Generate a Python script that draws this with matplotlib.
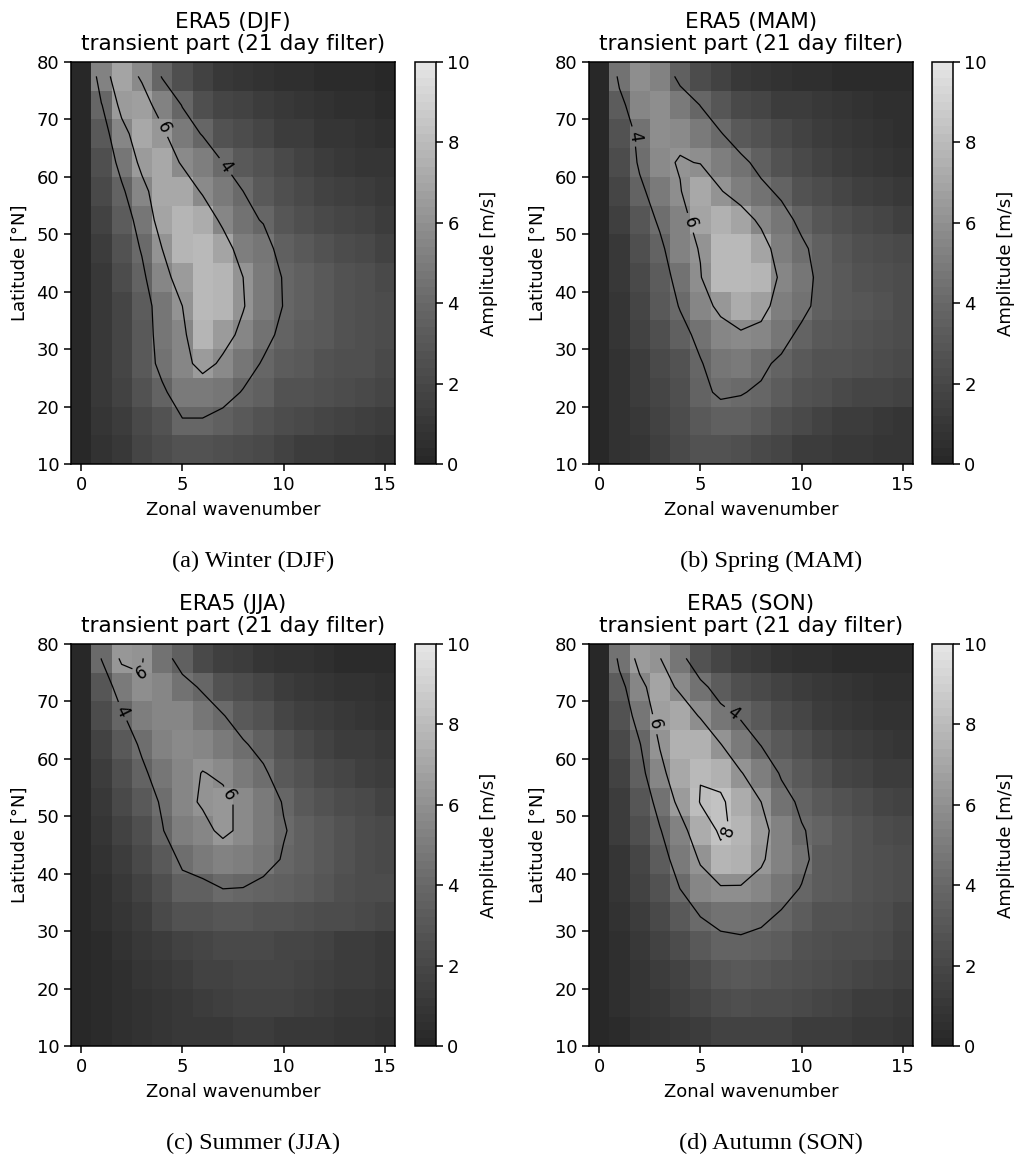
import numpy as np
import matplotlib.pyplot as plt
from matplotlib.colors import LinearSegmentedColormap

# latitude rows run from north to south, columns are wavenumber 0-15
latitudes = [77.5, 72.5, 67.5, 62.5, 57.5, 52.5, 47.5, 42.5, 37.5, 32.5, 27.5, 22.5, 17.5, 12.5]
wavenumbers = list(range(16))

djf = [
    [0.1, 5.3, 6.9, 5.8, 3.9, 2.5, 1.7, 1.0, 0.9, 0.7, 0.5, 0.4, 0.3, 0.2, 0.2, 0.1],
    [0.1, 3.9, 6.5, 6.7, 5.3, 3.93, 2.5, 1.9, 1.7, 1.4, 1.1, 0.9, 0.7, 0.5, 0.4, 0.3],
    [0.1, 3.1, 5.4, 7.0, 6.3, 4.8, 3.9, 2.6, 2.3, 1.9, 1.4, 1.2, 0.9, 0.8, 0.6, 0.5],
    [0.1, 2.5, 4.6, 6.4, 7.1, 5.8, 5.1, 4.0, 3.0, 2.6, 2.0, 1.6, 1.3, 1.1, 0.9, 0.8],
    [0.1, 2.0, 3.7, 5.5, 7.0, 7.1, 5.8, 4.8, 4.0, 3.1, 2.5, 2.1, 1.7, 1.5, 1.3, 1.1],
    [0.1, 1.6, 3.2, 4.6, 6.9, 7.6, 7.2, 5.6, 4.4, 3.9, 2.9, 2.5, 2.1, 1.8, 1.6, 1.4],
    [0.1, 1.3, 2.7, 4.15, 6.0, 7.7, 7.9, 6.9, 5.1, 4.6, 3.4, 3.1, 2.7, 2.3, 2.0, 1.7],
    [0.1, 1.1, 2.3, 3.6, 5.6, 6.5, 7.95, 7.7, 6.0, 4.9, 3.9, 3.4, 3.0, 2.7, 2.4, 2.0],
    [0.1, 1.0, 1.9, 3.3, 4.7, 6.0, 7.95, 7.6, 6.1, 4.9, 3.95, 3.4, 3.1, 2.8, 2.5, 2.2],
    [0.1, 1.0, 1.9, 3.1, 4.7, 5.6, 7.6, 6.6, 5.6, 4.5, 3.6, 3.2, 3.0, 2.8, 2.5, 2.2],
    [0.1, 1.0, 1.9, 3.0, 4.5, 5.4, 6.6, 5.7, 4.7, 3.85, 3.3, 3.0, 2.8, 2.5, 2.4, 2.1],
    [0.1, 1.0, 1.7, 2.7, 3.7, 4.9, 4.9, 4.6, 3.9, 3.4, 2.8, 2.6, 2.4, 2.2, 2.0, 1.8],
    [0.1, 0.9, 1.4, 2.1, 2.7, 3.9, 3.9, 3.5, 3.1, 2.7, 2.3, 2.0, 1.8, 1.6, 1.5, 1.3],
    [0.1, 0.7, 1.0, 1.8, 2.3, 2.6, 2.7, 2.5, 2.3, 2.0, 1.6, 1.4, 1.2, 1.1, 1.0, 0.9],
]

mam = [
    [0.1, 4.5, 5.9, 5.2, 3.55, 2.3, 1.6, 1.1, 0.9, 0.7, 0.5, 0.4, 0.3, 0.2, 0.2, 0.2],
    [0.1, 3.3, 5.6, 5.9, 4.9, 3.97, 2.9, 2.1, 1.9, 1.4, 1.2, 1.0, 0.8, 0.6, 0.5, 0.4],
    [0.1, 2.6, 4.5, 5.9, 5.7, 4.8, 4.1, 3.1, 2.6, 2.0, 1.6, 1.2, 1.0, 0.8, 0.6, 0.5],
    [0.1, 2.2, 4.27, 5.7, 6.1, 5.95, 5.0, 4.4, 3.5, 2.7, 2.1, 1.7, 1.4, 1.1, 0.9, 0.7],
    [0.1, 1.8, 3.6, 4.95, 5.93, 7.0, 6.1, 5.1, 4.4, 3.7, 2.8, 2.3, 1.9, 1.5, 1.3, 1.1],
    [0.1, 1.5, 2.9, 4.3, 5.3, 6.8, 7.5, 6.9, 5.6, 4.6, 3.6, 2.9, 2.4, 2.1, 1.8, 1.5],
    [0.1, 1.1, 2.4, 3.6, 5.3, 6.1, 7.95, 7.95, 6.9, 5.0, 4.3, 3.4, 2.9, 2.5, 2.3, 2.0],
    [0.1, 1.0, 2.1, 3.3, 4.55, 5.9, 7.8, 7.98, 7.6, 5.6, 4.7, 3.5, 3.1, 2.8, 2.5, 2.3],
    [0.1, 0.9, 1.9, 3.0, 4.1, 5.4, 6.35, 7.3, 6.7, 5.1, 4.5, 3.4, 3.1, 2.9, 2.6, 2.3],
    [0.1, 0.8, 1.6, 2.5, 3.5, 4.4, 5.4, 5.75, 5.4, 4.6, 3.6, 3.1, 2.9, 2.7, 2.5, 2.2],
    [0.1, 0.7, 1.4, 2.1, 2.8, 3.9, 4.7, 4.9, 4.3, 3.7, 3.1, 2.7, 2.6, 2.4, 2.2, 2.0],
    [0.1, 0.7, 1.2, 1.8, 2.4, 3.7, 4.2, 4.08, 3.8, 3.2, 2.7, 2.4, 2.1, 1.9, 1.8, 1.6],
    [0.1, 0.7, 1.1, 1.6, 2.3, 3.0, 3.4, 3.4, 3.0, 2.5, 2.0, 1.6, 1.3, 1.2, 1.1, 0.9],
    [0.1, 0.6, 0.9, 1.5, 2.1, 2.6, 2.7, 2.4, 2.1, 1.9, 1.4, 1.2, 1.1, 1.0, 0.9, 0.8],
]

jja = [
    [0.1, 4.05, 6.3, 6.1, 4.5, 3.5, 2.0, 1.5, 1.2, 0.9, 0.7, 0.6, 0.4, 0.3, 0.2, 0.2],
    [0.1, 2.9, 4.85, 5.9, 5.5, 4.4, 3.85, 2.7, 2.3, 1.8, 1.4, 1.1, 0.8, 0.7, 0.6, 0.5],
    [0.1, 2.2, 3.8, 5.1, 5.6, 5.5, 4.6, 4.1, 3.1, 2.6, 1.9, 1.5, 1.2, 1.0, 0.8, 0.7],
    [0.1, 1.7, 3.1, 4.25, 5.2, 5.7, 5.4, 4.9, 4.2, 3.4, 2.6, 2.1, 1.7, 1.4, 1.2, 1.0],
    [0.1, 1.4, 2.5, 3.7, 4.7, 5.5, 6.05, 5.8, 4.9, 4.3, 3.05, 2.6, 2.1, 1.8, 1.5, 1.3],
    [0.1, 1.1, 2.1, 3.1, 4.2, 5.6, 6.15, 6.3, 5.7, 4.8, 3.9, 3.1, 2.7, 2.3, 2.0, 1.7],
    [0.1, 0.9, 1.6, 2.5, 3.9, 5.15, 5.6, 6.3, 5.7, 4.9, 4.1, 3.5, 3.0, 2.6, 2.3, 2.0],
    [0.1, 0.7, 1.3, 2.1, 3.1, 4.3, 4.9, 5.2, 5.1, 4.6, 3.87, 3.4, 3.0, 2.6, 2.3, 2.1],
    [0.1, 0.5, 1.0, 1.7, 2.5, 3.5, 3.55, 4.03, 3.98, 3.6, 3.4, 3.2, 2.9, 2.5, 2.3, 2.2],
    [0.1, 0.4, 0.8, 1.4, 2.1, 2.6, 2.8, 2.9, 2.9, 2.8, 2.6, 2.5, 2.3, 2.2, 2.0, 1.8],
    [0.1, 0.3, 0.6, 1.0, 1.3, 1.6, 1.9, 2.0, 2.0, 2.0, 1.9, 1.8, 1.6, 1.4, 1.3, 1.1],
    [0.1, 0.3, 0.5, 0.8, 1.1, 1.3, 1.6, 1.7, 1.8, 1.8, 1.8, 1.6, 1.5, 1.3, 1.2, 1.1],
    [0.1, 0.3, 0.5, 0.7, 0.9, 1.1, 1.3, 1.5, 1.6, 1.6, 1.6, 1.5, 1.3, 1.1, 1.0, 0.9],
    [0.1, 0.3, 0.5, 0.6, 0.8, 1.0, 1.0, 1.1, 1.2, 1.2, 1.1, 1.1, 1.0, 0.9, 0.8, 0.7],
]

son = [
    [0.1, 4.5, 6.5, 6.05, 4.6, 2.6, 1.9, 1.3, 1.0, 0.7, 0.5, 0.4, 0.3, 0.2, 0.2, 0.2],
    [0.1, 3.3, 5.6, 6.8, 5.7, 4.5, 3.2, 2.5, 2.1, 1.6, 1.2, 1.0, 0.8, 0.6, 0.5, 0.4],
    [0.1, 2.7, 4.75, 6.65, 7.0, 5.86, 4.6, 3.85, 3.0, 2.3, 1.8, 1.4, 1.1, 0.9, 0.7, 0.6],
    [0.1, 2.0, 3.9, 6.1, 7.5, 7.4, 6.05, 4.8, 3.95, 3.1, 2.4, 1.9, 1.5, 1.2, 1.0, 0.8],
    [0.1, 1.7, 3.4, 5.5, 7.1, 7.95, 7.5, 6.1, 5.0, 3.85, 3.0, 2.4, 1.9, 1.6, 1.4, 1.2],
    [0.1, 1.4, 2.9, 4.57, 6.5, 8.07, 8.25, 7.2, 6.0, 4.5, 3.75, 3.1, 2.6, 2.3, 1.9, 1.6],
    [0.1, 1.2, 2.4, 3.9, 5.3, 7.2, 8.2, 7.7, 6.5, 5.25, 4.1, 3.6, 3.1, 2.7, 2.3, 2.0],
    [0.1, 0.9, 1.9, 3.2, 4.85, 6.15, 7.6, 7.4, 6.2, 5.2, 4.4, 3.35, 3.0, 2.7, 2.5, 2.2],
    [0.1, 0.8, 1.7, 2.7, 4.03, 5.4, 5.85, 5.85, 5.5, 4.6, 3.93, 3.3, 3.0, 2.7, 2.5, 2.2],
    [0.1, 0.7, 1.4, 2.1, 3.1, 4.0, 4.4, 4.5, 4.3, 3.8, 3.2, 2.8, 2.6, 2.4, 2.2, 1.9],
    [0.1, 0.5, 1.0, 1.7, 2.3, 3.0, 3.6, 3.7, 3.5, 3.2, 2.8, 2.5, 2.3, 2.2, 2.0, 1.7],
    [0.1, 0.5, 0.9, 1.3, 1.7, 2.2, 2.9, 3.0, 2.9, 2.7, 2.4, 2.2, 2.0, 1.9, 1.7, 1.5],
    [0.1, 0.4, 0.8, 1.1, 1.5, 1.8, 2.3, 2.4, 2.3, 2.2, 2.0, 1.9, 1.6, 1.4, 1.3, 1.1],
    [0.1, 0.3, 0.6, 0.9, 1.1, 1.3, 1.6, 1.7, 1.6, 1.6, 1.4, 1.3, 1.2, 1.1, 1.0, 0.9],
]

seasons = ["DJF", "MAM", "JJA", "SON"]
captions = ["(a) Winter (DJF)", "(b) Spring (MAM)", "(c) Summer (JJA)", "(d) Autumn (SON)"]
fields = [djf, mam, jja, son]
contour_levels = [4, 6, 8]
label_spots = [
    [(7.2, 62), (4.0, 68.5)],
    [(1.6, 67), (4.5, 52)],
    [(1.9, 68), (3.0, 75), (7.0, 53)],
    [(6.5, 67.5), (2.7, 66), (6.5, 47)],
]

W, H = 1014, 1156
panel_x = [71, 589]
panel_y = [62, 644]
bar_x = [415, 932]

# grey scale is not linear in value, anchors read off the colour bar
grey = LinearSegmentedColormap.from_list(
    "amp", [(0.0, "#282828"), (0.2, "#484848"), (0.4, "#686868"),
            (0.6, "#909090"), (0.8, "#bababa"), (1.0, "#e4e4e4")], N=50)

plt.rcParams["font.family"] = "DejaVu Sans"
plt.rcParams["font.size"] = 13
plt.rcParams["axes.linewidth"] = 1.1
plt.rcParams["xtick.major.width"] = 1.1
plt.rcParams["ytick.major.width"] = 1.1
plt.rcParams["xtick.major.size"] = 5
plt.rcParams["ytick.major.size"] = 5

fig = plt.figure(figsize=(W / 100, H / 100), dpi=100)

for i, season in enumerate(seasons):
    col = i % 2
    row = i // 2
    left = panel_x[col]
    top = panel_y[row]
    ax = fig.add_axes([left / W, 1 - (top + 402) / H, 324 / W, 402 / H])
    cax = fig.add_axes([bar_x[col] / W, 1 - (top + 402) / H, 20.5 / W, 402 / H])

    z = np.array(fields[i])
    mesh = ax.pcolormesh(wavenumbers, latitudes, z, cmap=grey, vmin=0, vmax=10, shading="nearest")
    cs = ax.contour(wavenumbers, latitudes, z, levels=contour_levels, colors="black", linewidths=0.9)
    ax.clabel(cs, fmt="%d", fontsize=12, manual=label_spots[i])

    ax.set_xlim(-0.5, 15.5)
    ax.set_ylim(10, 80)
    ax.set_xticks([0, 5, 10, 15])
    ax.set_yticks(range(10, 81, 10))
    ax.set_xlabel("Zonal wavenumber", labelpad=5.5)
    ax.set_ylabel("Latitude [°N]", labelpad=5.5)
    ax.set_title("ERA5 (" + season + ")\ntransient part (21 day filter)", fontsize=15.6, pad=9, linespacing=1.1)

    cb = fig.colorbar(mesh, cax=cax)
    cb.set_ticks(range(0, 11, 2))
    cb.set_label("Amplitude [m/s]", labelpad=7)

    fig.text((left + 182) / W, 1 - (top + 499) / H, captions[i], family="Liberation Serif",
             fontsize=17.5, ha="center", va="center")

plt.savefig("out.png", dpi=100)
